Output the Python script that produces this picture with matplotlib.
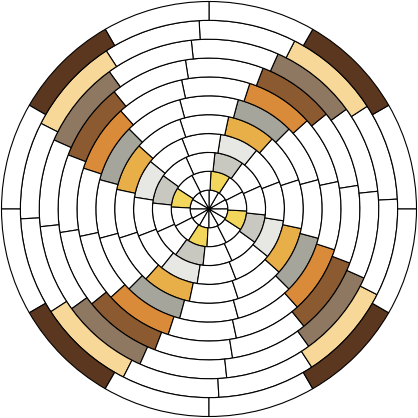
import numpy as np
import matplotlib
matplotlib.use("Agg")
import matplotlib.pyplot as plt

# ring 0 is the centre disc, ring 10 the outer band
ring_offsets = [0, 27, 24, 21, 18, 15, 12, 9, 6, 3, 0]   # degrees, start of first segment
ring_colors = ["#ffffff", "#f3d65c", "#c8c7c0", "#e7e7e4", "#e8ae48", "#a5a59b",
               "#d98b3a", "#8b5a31", "#8f7862", "#f8d898", "#5c371f"]
segments_per_ring = 12
colored_segments = [1, 4, 7, 10]

fig = plt.figure(figsize=(4.18, 4.18), dpi=100)
ax = fig.add_axes([0, 0, 1, 1], projection="polar")

seg_w = 2 * np.pi / segments_per_ring
for ring, (off, col) in enumerate(zip(ring_offsets, ring_colors)):
    for s in range(segments_per_ring):
        fc = col if s in colored_segments else "white"
        ax.bar(np.deg2rad(off) + s * seg_w, 1, width=seg_w, bottom=ring,
               align="edge", color=fc, edgecolor="black", linewidth=0.8)

ax.set_ylim(0, 11 * 209 / 207.5)
ax.set_axis_off()

fig.savefig("out.png", dpi=100)
